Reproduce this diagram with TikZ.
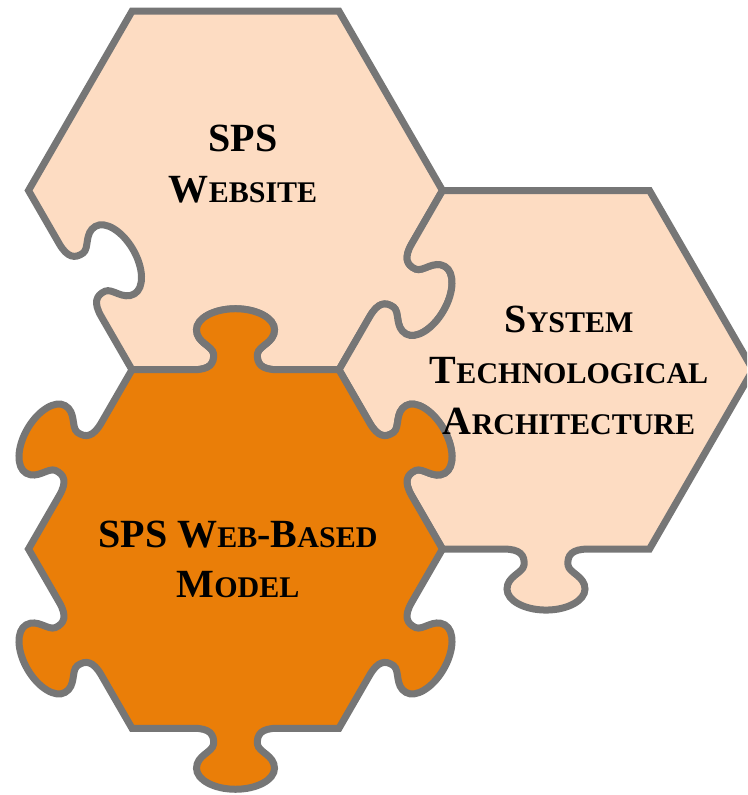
\documentclass[tikz,border=0pt]{standalone}
\usepackage{fontspec}
\setmainfont{Liberation Serif}
\definecolor{peach}{HTML}{FDDCC2}
\definecolor{orng}{HTML}{EA7E08}
\definecolor{edgegray}{HTML}{767676}
\newcommand\smc[1]{{\fontsize{30}{30}\selectfont #1}}
% tab segment on edge #3 of a hexagon centred at (#1,#2); #4 = -1 outward knob, 1 inward socket
\newcommand\tabseg[4]{{[shift={({#1+179.27*cos(60*#3+30)},{#2+179.27*sin(60*#3+30)})}, rotate={60*#3+120}, yscale=#4]
  -- (-42,0) .. controls (-26,0) and (-21,6) .. (-22,16)
  .. controls (-23,24) and (-39,27) .. (-39,40)
  .. controls (-39,51.5) and (-21.5,61) .. (0,61)
  .. controls (21.5,61) and (39,51.5) .. (39,40)
  .. controls (39,27) and (23,24) .. (22,16)
  .. controls (21,6) and (26,0) .. (42,0)}}
\newcommand\hv[3]{({#1+207*cos(60*#3)},{#2+207*sin(60*#3)})}
\begin{document}
\begin{tikzpicture}[x=1pt,y=1pt,
  piece/.style={draw=edgegray, line width=7pt, line join=miter},
  lbl/.style={anchor=base, inner sep=0pt, font=\fontsize{40}{40}\selectfont\bfseries, text=black}]
\path[use as bounding box] (0,0) rectangle (747,795);
\clip (0,0) rectangle (747,795);
% SPS Website piece
\filldraw[piece, fill=peach] \hv{235.5}{604.5}{0} -- \hv{235.5}{604.5}{1} -- \hv{235.5}{604.5}{2} -- \hv{235.5}{604.5}{3}
  \tabseg{235.5}{604.5}{3}{1} -- \hv{235.5}{604.5}{4}
  \tabseg{235.5}{604.5}{4}{1} -- \hv{235.5}{604.5}{5}
  \tabseg{235.5}{604.5}{5}{-1} -- cycle;
% System Technological Architecture piece
\filldraw[piece, fill=peach] \hv{546}{425.2}{0} -- \hv{546}{425.2}{1} -- \hv{546}{425.2}{2}
  \tabseg{546}{425.2}{2}{1} -- \hv{546}{425.2}{3}
  \tabseg{546}{425.2}{3}{1} -- \hv{546}{425.2}{4}
  \tabseg{546}{425.2}{4}{-1} -- \hv{546}{425.2}{5} -- cycle;
% SPS Web-Based Model piece
\filldraw[piece, fill=orng] \hv{235.5}{246}{0}
  \tabseg{235.5}{246}{0}{-1} -- \hv{235.5}{246}{1}
  \tabseg{235.5}{246}{1}{-1} -- \hv{235.5}{246}{2}
  \tabseg{235.5}{246}{2}{-1} -- \hv{235.5}{246}{3}
  \tabseg{235.5}{246}{3}{-1} -- \hv{235.5}{246}{4}
  \tabseg{235.5}{246}{4}{-1} -- \hv{235.5}{246}{5}
  \tabseg{235.5}{246}{5}{-1} -- cycle;
% labels
\node[lbl] (a1) at (243,643) {SPS};
\node[lbl] (a2) at (243,592) {W\smc{EBSITE}};
\node[lbl] (c1) at (569,462) {S\smc{YSTEM}};
\node[lbl] (c2) at (569,411) {T\smc{ECHNOLOGICAL}};
\node[lbl] (c3) at (569,360) {A\smc{RCHITECTURE}};
\node[lbl] (b1) at (238,247) {SPS W\smc{EB}-B\smc{ASED}};
\node[lbl] (b2) at (238,197) {M\smc{ODEL}};
\end{tikzpicture}
\end{document}
